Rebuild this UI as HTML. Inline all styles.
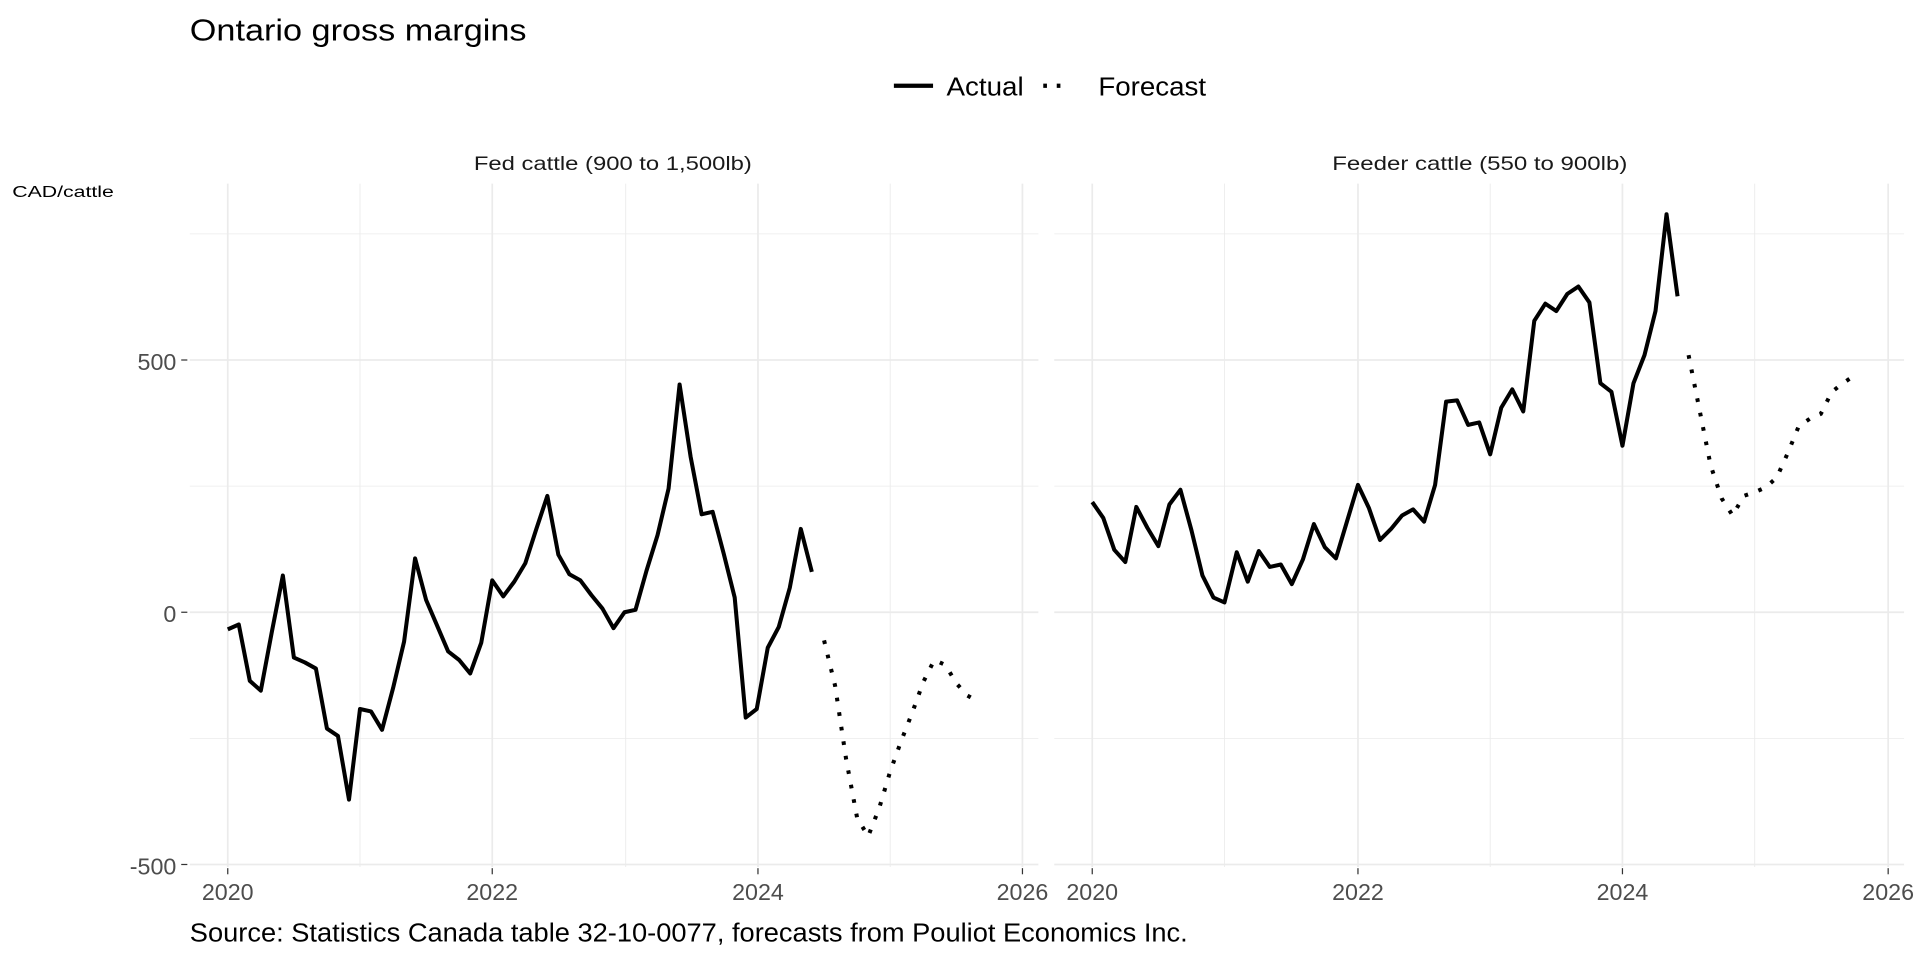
<!DOCTYPE html>
<html><head><meta charset="utf-8"><style>html,body{margin:0;padding:0;background:#fff}svg{display:block}</style></head>
<body>
<svg width="1920" height="960" viewBox="0 0 1568 784" xmlns="http://www.w3.org/2000/svg" font-family="Liberation Sans, sans-serif">
<rect width="1568" height="784" fill="#fff"/>
<text x="155" y="33" font-size="25" fill="#000" textLength="275" lengthAdjust="spacingAndGlyphs">Ontario gross margins</text>
<line x1="730" y1="70" x2="762" y2="70" stroke="#000" stroke-width="3.5"/>
<text x="773" y="78" font-size="21" fill="#000" textLength="63" lengthAdjust="spacingAndGlyphs">Actual</text>
<line x1="852" y1="70" x2="872" y2="70" stroke="#000" stroke-width="3.5" stroke-dasharray="3 8"/>
<text x="897" y="78" font-size="21" fill="#000" textLength="88" lengthAdjust="spacingAndGlyphs">Forecast</text>
<text x="387" y="139" font-size="16" fill="#1a1a1a" textLength="227" lengthAdjust="spacingAndGlyphs">Fed cattle (900 to 1,500lb)</text>
<text x="1088" y="139" font-size="16" fill="#1a1a1a" textLength="241" lengthAdjust="spacingAndGlyphs">Feeder cattle (550 to 900lb)</text>
<text x="10" y="161" font-size="13" fill="#000" textLength="83" lengthAdjust="spacingAndGlyphs">CAD/cattle</text>
<g stroke="#ebebeb" stroke-width="0.7">
<line x1="155" x2="848" y1="191" y2="191"/><line x1="155" x2="848" y1="397" y2="397"/><line x1="155" x2="848" y1="603" y2="603"/>
<line x1="861" x2="1555" y1="191" y2="191"/><line x1="861" x2="1555" y1="397" y2="397"/><line x1="861" x2="1555" y1="603" y2="603"/>
<line x1="294" x2="294" y1="150" y2="708"/><line x1="511" x2="511" y1="150" y2="708"/><line x1="727" x2="727" y1="150" y2="708"/>
<line x1="1000" x2="1000" y1="150" y2="708"/><line x1="1217" x2="1217" y1="150" y2="708"/><line x1="1433" x2="1433" y1="150" y2="708"/>
</g>
<g stroke="#ebebeb" stroke-width="1.4">
<line x1="155" x2="848" y1="294" y2="294"/><line x1="155" x2="848" y1="500" y2="500"/><line x1="155" x2="848" y1="706" y2="706"/>
<line x1="861" x2="1555" y1="294" y2="294"/><line x1="861" x2="1555" y1="500" y2="500"/><line x1="861" x2="1555" y1="706" y2="706"/>
<line x1="186" x2="186" y1="150" y2="708"/><line x1="402" x2="402" y1="150" y2="708"/><line x1="619" x2="619" y1="150" y2="708"/><line x1="835" x2="835" y1="150" y2="708"/>
<line x1="892" x2="892" y1="150" y2="708"/><line x1="1109" x2="1109" y1="150" y2="708"/><line x1="1325" x2="1325" y1="150" y2="708"/><line x1="1542" x2="1542" y1="150" y2="708"/>
</g>
<g stroke="#333" stroke-width="1">
<line x1="148" x2="153" y1="294" y2="294"/><line x1="148" x2="153" y1="500" y2="500"/><line x1="148" x2="153" y1="706" y2="706"/>
<line x1="186" x2="186" y1="709" y2="714"/><line x1="402" x2="402" y1="709" y2="714"/><line x1="619" x2="619" y1="709" y2="714"/><line x1="835" x2="835" y1="709" y2="714"/>
<line x1="892" x2="892" y1="709" y2="714"/><line x1="1109" x2="1109" y1="709" y2="714"/><line x1="1325" x2="1325" y1="709" y2="714"/><line x1="1542" x2="1542" y1="709" y2="714"/>
</g>
<g font-size="19" fill="#4d4d4d" text-anchor="end">
<text x="144" y="302">500</text><text x="144" y="508">0</text><text x="144" y="714">-500</text>
</g>
<g font-size="19" fill="#4d4d4d" text-anchor="middle">
<text x="186" y="735">2020</text><text x="402" y="735">2022</text><text x="619" y="735">2024</text><text x="835" y="735">2026</text>
<text x="892" y="735">2020</text><text x="1109" y="735">2022</text><text x="1325" y="735">2024</text><text x="1542" y="735">2026</text>
</g>
<text x="155" y="769" font-size="21" fill="#000" textLength="815" lengthAdjust="spacingAndGlyphs">Source: Statistics Canada table 32-10-0077, forecasts from Pouliot Economics Inc.</text>
<g fill="none" stroke="#000" stroke-width="3.3" stroke-linejoin="round">
<polyline points="186,514 195,510 204,556 213,564 222,516 231,470 240,537 249,541 258,546 267,595 276,601 285,653 294,579 303,581 312,596 321,562 330,524 339,456 348,490 357,511 366,532 375,539 384,550 393,525 402,474 411,487 420,475 429,460 438,432 447,405 456,453 465,469 474,474 483,486 492,497 501,513 510,500 519,498 528,466 537,437 546,399 555,314 564,373 573,420 582,418 591,452 600,488 609,586 618,579 627,529 636,512 645,480 654,432 663,467"/>
<polyline points="892,410 901,423 910,449 919,459 928,414 937,431 946,446 955,412 964,400 973,433 982,470 991,488 1000,492 1010,451 1019,475 1028,450 1037,463 1046,461 1055,477 1064,457 1073,428 1082,447 1091,456 1100,426 1109,396 1118,415 1127,441 1136,432 1145,421 1154,416 1163,426 1172,396 1181,328 1190,327 1199,347 1208,345 1217,371 1226,333 1235,318 1244,336 1253,262 1262,248 1271,254 1280,240 1289,234 1298,247 1307,313 1316,320 1325,364 1334,313 1343,290 1352,254 1361,175 1370,242"/>
</g>
<g fill="none" stroke="#000" stroke-width="3.3" stroke-dasharray="3 9">
<polyline points="673,523 682,560 691,620 700,668 709,683 718,660 727,630 736,605 745,582 754,557 763,539 772,543 781,558 790,568 799,573"/>
<polyline points="1379,290 1388,335 1397,380 1406,407 1415,421 1424,405 1433,402 1442,398 1451,390 1460,370 1469,348 1478,342 1487,338 1496,320 1505,313 1514,307"/>
</g>
</svg>
</body></html>
